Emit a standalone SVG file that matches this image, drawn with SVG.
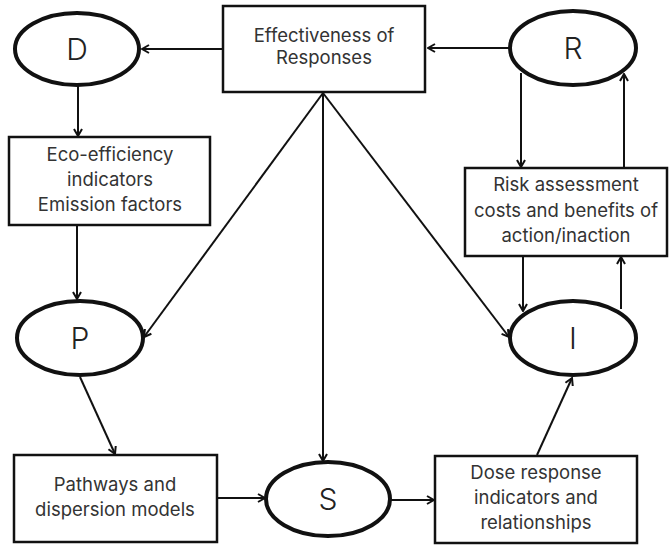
<svg xmlns="http://www.w3.org/2000/svg" width="671" height="546" viewBox="0 0 671 546">
<defs>
<marker id="ah" viewBox="0 0 10 10" refX="9" refY="5" markerWidth="10" markerHeight="10" markerUnits="userSpaceOnUse" orient="auto">
<polyline points="2,1 9,5 2,9" fill="none" stroke="#111" stroke-width="2" stroke-linejoin="miter"/>
</marker>
<style>
.box{fill:#fff;stroke:#111;stroke-width:2.5}
.ell{fill:#fff;stroke:#111;stroke-width:4}
.t{font-family:"Inter","Liberation Sans",sans-serif;font-size:18.5px;fill:#333;text-anchor:middle}
.L{font-family:"Inter","Liberation Sans",sans-serif;font-size:30px;font-weight:300;fill:#222;text-anchor:middle}
.c{fill:none;stroke:#111;stroke-width:2;marker-end:url(#ah)}
</style>
</defs>
<rect width="671" height="546" fill="#fff"/>
<g id="connectors">
<line class="c" x1="223" y1="49" x2="142" y2="49"/>
<line class="c" x1="509" y1="48" x2="428" y2="48"/>
<line class="c" x1="78" y1="86" x2="78" y2="136"/>
<line class="c" x1="77" y1="226" x2="77" y2="299"/>
<line class="c" x1="521" y1="73" x2="521" y2="167"/>
<line class="c" x1="624" y1="167" x2="624" y2="74"/>
<line class="c" x1="523" y1="257" x2="523" y2="311"/>
<line class="c" x1="621" y1="309" x2="621" y2="257"/>
<line class="c" x1="323" y1="93" x2="144" y2="337"/>
<line class="c" x1="323" y1="93" x2="323" y2="461"/>
<line class="c" x1="323" y1="93" x2="509" y2="337"/>
<line class="c" x1="80" y1="377" x2="115" y2="454"/>
<line class="c" x1="218" y1="498" x2="265" y2="498"/>
<line class="c" x1="391" y1="500" x2="434" y2="500"/>
<line class="c" x1="537" y1="455" x2="572" y2="378"/>
</g>
<g id="effectiveness">
<rect class="box" x="223" y="6" width="202" height="86"/>
<text class="t" x="324" y="42">Effectiveness of</text>
<text class="t" x="324" y="64">Responses</text>
</g>
<g id="D">
<ellipse class="ell" cx="77" cy="49" rx="62" ry="36"/>
<text class="L" x="77" y="60">D</text>
</g>
<g id="R">
<ellipse class="ell" cx="573" cy="48" rx="63" ry="37"/>
<text class="L" x="573" y="59">R</text>
</g>
<g id="eco">
<rect class="box" x="9" y="137" width="201" height="88"/>
<text class="t" x="110" y="161">Eco-efficiency</text>
<text class="t" x="110" y="186">indicators</text>
<text class="t" x="110" y="211">Emission factors</text>
</g>
<g id="risk">
<rect class="box" x="465" y="168" width="202" height="88"/>
<text class="t" x="566" y="191">Risk assessment</text>
<text class="t" x="566" y="217">costs and benefits of</text>
<text class="t" x="566" y="242">action/inaction</text>
</g>
<g id="P">
<ellipse class="ell" cx="80" cy="338" rx="63" ry="37"/>
<text class="L" x="80" y="349">P</text>
</g>
<g id="I">
<ellipse class="ell" cx="573" cy="338" rx="63" ry="37"/>
<text class="L" x="573" y="349">I</text>
</g>
<g id="pathways">
<rect class="box" x="14" y="455" width="203" height="87"/>
<text class="t" x="115" y="491">Pathways and</text>
<text class="t" x="115" y="516">dispersion models</text>
</g>
<g id="S">
<ellipse class="ell" cx="328" cy="499" rx="62" ry="37"/>
<text class="L" x="328" y="510">S</text>
</g>
<g id="dose">
<rect class="box" x="435" y="456" width="202" height="87"/>
<text class="t" x="536" y="479">Dose response</text>
<text class="t" x="536" y="504">indicators and</text>
<text class="t" x="536" y="529">relationships</text>
</g>
</svg>
